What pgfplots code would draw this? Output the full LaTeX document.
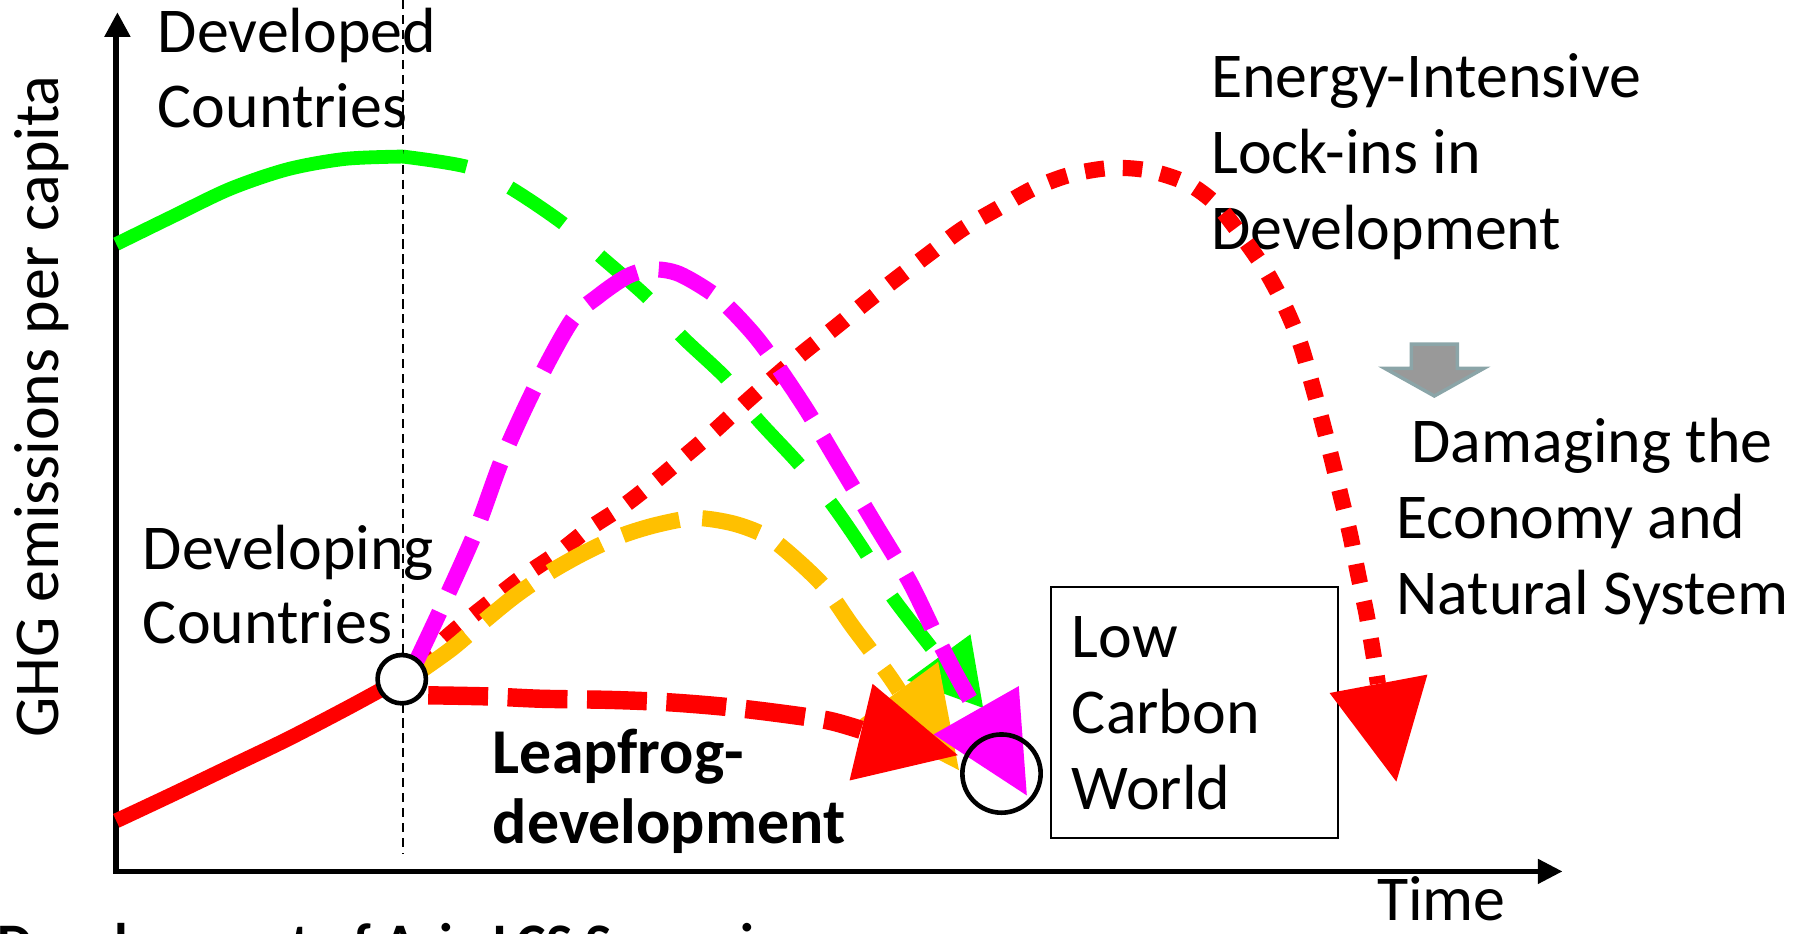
\documentclass[border=0pt]{standalone}
\usepackage{pgfplots}
\pgfplotsset{compat=1.18}
\usepackage{fontspec}
\setmainfont{Carlito}
\definecolor{cgreen}{RGB}{0,255,0}
\definecolor{cmag}{RGB}{255,0,255}
\definecolor{cred}{RGB}{255,0,0}
\definecolor{corange}{RGB}{255,192,0}
\definecolor{cgrayfill}{RGB}{153,153,153}
\definecolor{cgrayedge}{RGB}{139,165,168}
\begin{document}
\begin{tikzpicture}
\begin{axis}[width=1568pt,height=811pt,scale only axis,
  xmin=0,xmax=1568,ymin=0,ymax=811,y dir=reverse,hide axis,clip=false]
\tikzset{lbl/.style={anchor=base west,inner sep=0pt,font=\fontsize{55.5}{65}\selectfont},
         blbl/.style={anchor=base west,inner sep=0pt,font=\fontsize{55.5}{61}\selectfont\bfseries}}
% texts
\node[lbl] at (axis cs:137,46) {Developed};
\node[lbl] at (axis cs:137,111) {Countries};
\node[lbl] at (axis cs:1052,85) {Energy-Intensive};
\node[lbl] at (axis cs:1052,151) {Lock-ins in};
\node[lbl] at (axis cs:1052,217) {Development};
\node[lbl] at (axis cs:1226,402) {Damaging the};
\node[lbl] at (axis cs:1213,468) {Economy and};
\node[lbl] at (axis cs:1213,534) {Natural System};
\node[lbl] at (axis cs:124,495) {Developing};
\node[lbl] at (axis cs:124,559) {Countries};
\node[lbl] at (axis cs:931,571) {Low};
\node[lbl] at (axis cs:931,637) {Carbon};
\node[lbl] at (axis cs:931,703) {World};
\node[blbl] at (axis cs:428,672) {Leapfrog-};
\node[blbl] at (axis cs:428,733) {development};
\node[lbl] at (axis cs:1196,800) {Time};
\node[lbl,rotate=90] at (axis cs:51,641) {GHG emissions per capita};
\node[anchor=base west,inner sep=0pt,font=\fontsize{48.5}{55}\selectfont\bfseries] at (axis cs:-2,836) {Development of Asia LCS Scenario};
% box
\draw[black,line width=2pt] (axis cs:913,510) rectangle (axis cs:1162,728);
% gray arrow
\addplot[fill=cgrayfill,draw=cgrayedge,line width=3pt,line join=miter] coordinates
 {(1226,299) (1266,299) (1266,320) (1289,320) (1246,344) (1203,320) (1226,320)} -- cycle;
% dashed vertical
\draw[black,line width=1.5pt,dash pattern=on 8pt off 5pt] (axis cs:350,0) -- (axis cs:350,742);
% axes
\draw[black,line width=5pt] (axis cs:101,759) -- (axis cs:101,30);
\addplot[fill=black,draw=none] coordinates {(90.5,32) (102,11) (113.5,32)} -- cycle;
\draw[black,line width=5pt] (axis cs:99,757) -- (axis cs:1338,757);
\addplot[fill=black,draw=none] coordinates {(1336,746) (1357,757) (1336,768)} -- cycle;
% green
\addplot[cgreen,line width=12pt,smooth] coordinates
 {(101,212) (150,188) (200,164) (250,147) (300,138) (350,136)};
\addplot[cgreen,line width=12pt,smooth,dash pattern=on 56pt off 42pt] coordinates
 {(350,136) (406,145) (443,163) (489,194) (522,223) (563,259) (592,292) (631,329) (656,362) (693,402) (722,437) (751,479) (774,517) (807,560) (816,571)};
\addplot[fill=cgreen,draw=none] coordinates {(788,591) (843,551) (854,615)} -- cycle;
% red dotted
\addplot[cred,line width=14pt,smooth,dash pattern=on 17pt off 16pt] coordinates
 {(362,578) (392,550) (423,525) (454,501) (485,480) (512,459) (541,440) (568,419) (594,397) (621,374) (646,351) (671,329) (698,306) (726,284) (753,262) (780,241) (809,219) (836,199) (867,181) (897,164) (929,152) (964,146) (997,148) (1031,159) (1057,178) (1080,207) (1100,236) (1116,266) (1129,297) (1139,331) (1148,364) (1157,399) (1165,432) (1173,465) (1180,500) (1187,533) (1193,568) (1197,594)};
\addplot[fill=cred,draw=none] coordinates {(1155,602) (1240,586) (1213,679)} -- cycle;
% orange
\addplot[corange,line width=14pt,smooth,dash pattern=on 51pt off 20pt] coordinates
 {(365,583) (393,563) (420,540) (447,518) (476,498) (506,481) (538,466) (570,456) (604,450) (638,455) (668,467) (695,489) (718,512) (739,542) (757,566) (773,588) (781,600)};
\addplot[fill=corange,draw=none] coordinates {(747,625) (815,575) (833,669)} -- cycle;
% red solid + dashed
\addplot[cred,line width=13pt,smooth] coordinates
 {(101,713) (150,690) (200,666) (250,642) (300,616) (335,597)};
\addplot[cred,line width=16pt,smooth,dash pattern=on 52pt off 17pt] coordinates
 {(372,604) (425,605) (470,607) (530,608) (580,610) (630,614) (680,620) (720,626) (748,634)};
\addplot[fill=cred,draw=none] coordinates {(758,594) (738,678) (832,656)} -- cycle;
% low carbon circle
\addplot[only marks,mark=o,mark size=34pt,mark options={draw=black,line width=4pt}] coordinates {(870,672)};
% magenta
\addplot[cmag,line width=14pt,smooth,dash pattern=on 51pt off 19pt] coordinates
 {(360,578) (384,527) (413,462) (437,397) (466,334) (497,278) (520,257) (545,240) (566,234) (590,238) (623,258) (650,285) (669,309) (700,355) (730,405) (760,455) (790,505) (812,550) (830,585) (848,617)};
\addplot[fill=cmag,draw=none] coordinates {(811,638) (885,596) (892,691)} -- cycle;
% developing circle
\addplot[only marks,mark=*,mark size=21pt,mark options={draw=black,fill=white,line width=4pt}] coordinates {(349,590)};
\end{axis}
\pgfresetboundingbox
\path[use as bounding box] (0,0) rectangle (1568pt,811pt);
\end{tikzpicture}
\end{document}
